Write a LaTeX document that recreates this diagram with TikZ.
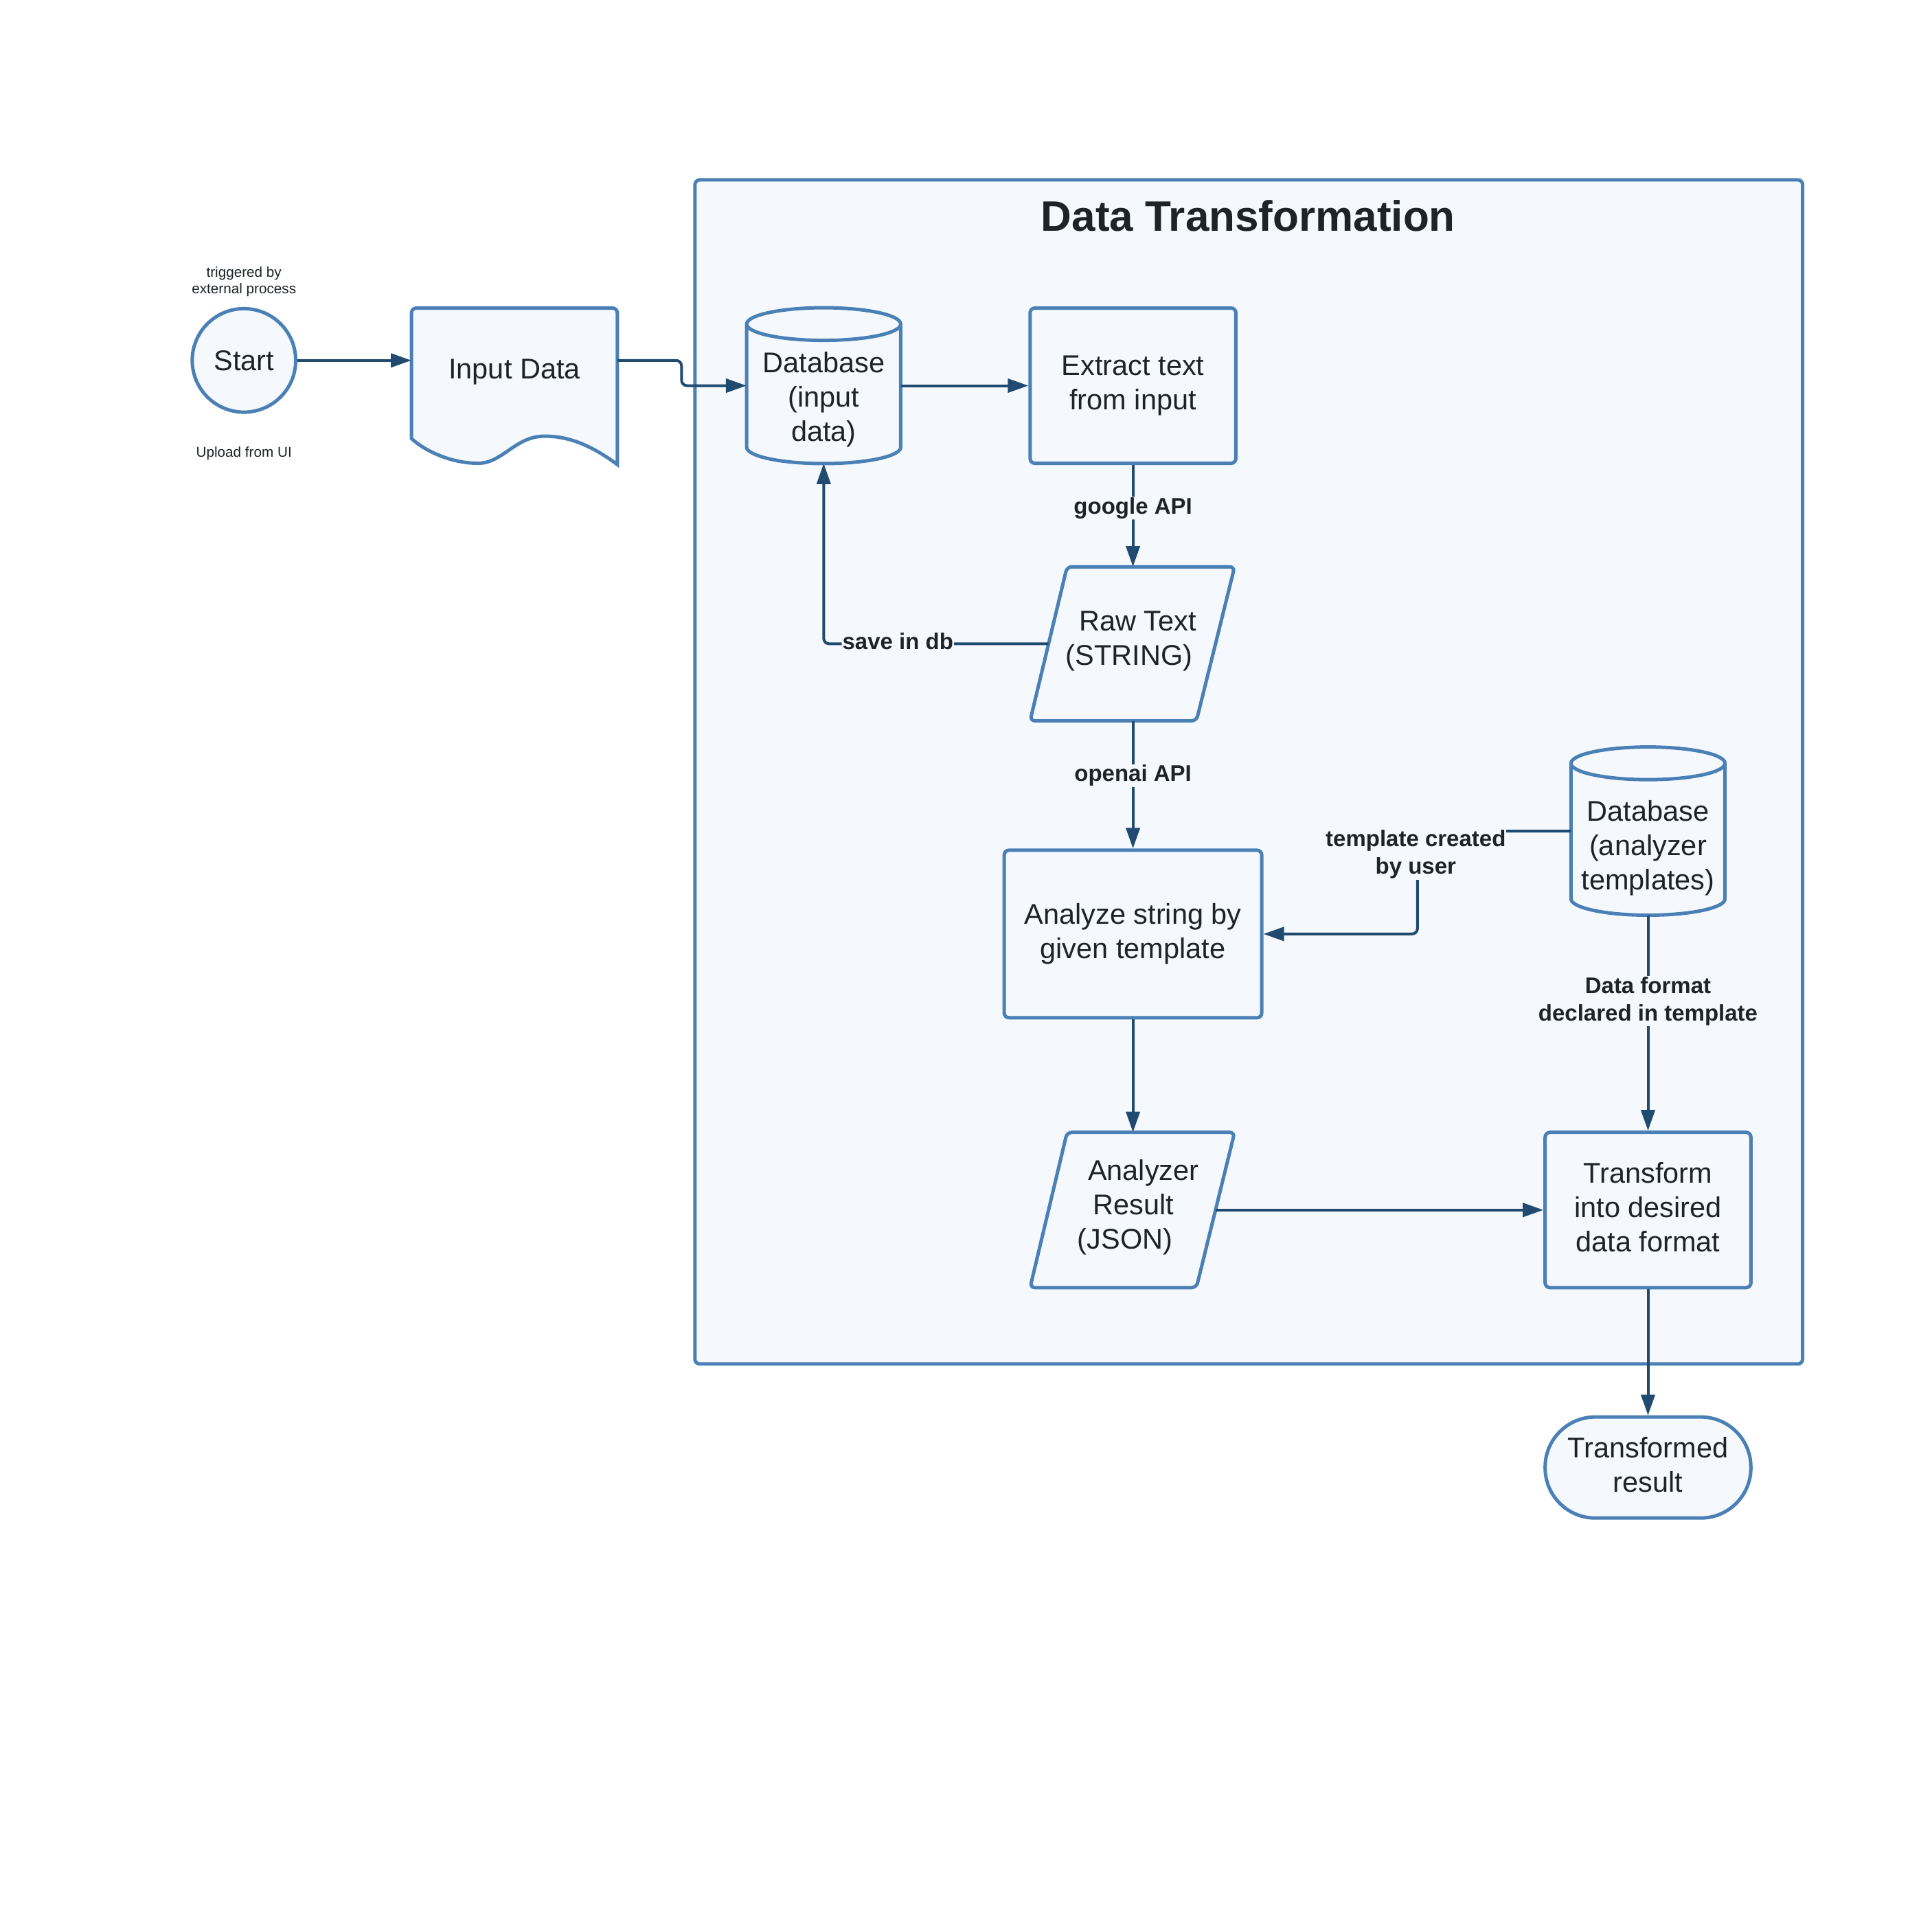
\documentclass[tikz,border=0pt]{standalone}
\usepackage{fontspec}
\setmainfont{Liberation Sans}
\usetikzlibrary{arrows.meta,calc}
\definecolor{edgeblue}{RGB}{74,128,181}
\definecolor{paleblue}{RGB}{245,249,253}
\definecolor{linknavy}{RGB}{33,74,113}
\definecolor{inkdark}{RGB}{30,35,40}
\newcommand{\unitpx}{1.794pt}

\begin{document}
\begin{tikzpicture}[x=1.794pt, y=-1.794pt,
  outline/.style={draw=edgeblue, fill=paleblue, line width=5pt, rounded corners=7pt},
  textbox/.style={draw=none, inner sep=0pt, text=inkdark, align=center,
    font=\fontsize{41.5}{50}\selectfont},
  procbox/.style={textbox, outline},
  conn/.style={draw=linknavy, line width=4pt, -{Triangle[length=30pt,width=20pt]}, rounded corners=8pt},
  lbl/.style={font=\bfseries\fontsize{33}{40}\selectfont, text=inkdark, fill=paleblue,
    inner sep=1pt, align=center},
  note/.style={font=\fontsize{20.7}{23.5}\selectfont, text=inkdark, align=center},
  dbrim/.style={x radius=62.5, y radius=13.25},
  down/.style={yshift=-#1*\unitpx},
]
\fill[white] (0,0) rectangle (1568,1568);
\useasboundingbox (0,0) rectangle (1568,1568);

% group frame and title
\node[outline, inner sep=0pt, minimum width=899*\unitpx, minimum height=961*\unitpx] (frame) at (1013.5,626.5) {};
\node[font=\bfseries\fontsize{62}{74}\selectfont, text=inkdark] (title) at (1013,175) {Data Transformation};

% start event
\node[procbox, circle, minimum size=84*\unitpx] (start) at (198,292.5) {Start};
\node[note] (trigger) at (198,228.5) {triggered by\\external process};
\node[note] (upload) at (198,368) {Upload from UI};

% input document
\path[outline, sharp corners] (334,356) [rounded corners=7pt] -- (334,250) -- (501,250) [sharp corners] -- (501,377)
  .. controls (478,360) and (460,354) .. (442,354)
  .. controls (418,354) and (408,376) .. (388,376)
  .. controls (366,376) and (345,366) .. (334,356) -- cycle;
\node[textbox, minimum width=167*\unitpx, minimum height=98*\unitpx] (input) at (417.5,299) {};
\node[textbox] (inputtext) at (417.5,302) {Input Data};

% input database
\path[outline, sharp corners] (606,263) -- (606,363) arc[start angle=180, end angle=0, dbrim]
  -- (731,263) arc[start angle=0, end angle=-180, dbrim] -- cycle;
\draw[draw=edgeblue, line width=5pt] (606,263) arc[start angle=180, end angle=0, dbrim];
\node[textbox, minimum width=125*\unitpx, minimum height=126*\unitpx] (db1) at (668.5,313) {};
\node[textbox] (db1text) at (668.5,324.5) {Database\\(input\\data)};

% text extraction
\node[procbox, minimum width=167*\unitpx, minimum height=126*\unitpx] (extract) at (919.5,313) {Extract text\\from input};

% raw text data
\path[outline] (866,460) -- (1002,460) -- (971,585) -- (836,585) -- cycle;
\node[textbox, minimum width=166*\unitpx, minimum height=125*\unitpx] (raw) at (919,522.5) {};
\node[textbox] (rawtext) at (919.5,520.5) {\hspace*{14.4pt}Raw Text\\(STRING)\hspace*{10.8pt}};

% analysis step
\node[procbox, minimum width=209*\unitpx, minimum height=136*\unitpx] (analyze) at (919.5,758) {Analyze string by\\given template};

% template database
\path[outline, sharp corners] (1275,619.5) -- (1275,729.5) arc[start angle=180, end angle=0, dbrim]
  -- (1400,619.5) arc[start angle=0, end angle=-180, dbrim] -- cycle;
\draw[draw=edgeblue, line width=5pt] (1275,619.5) arc[start angle=180, end angle=0, dbrim];
\node[textbox, minimum width=125*\unitpx, minimum height=137*\unitpx] (db2) at (1337.5,674.5) {};
\node[textbox] (db2text) at (1337.5,688.5) {Database\\(analyzer\\templates)};

% analyzer result data
\path[outline] (866,919) -- (1002,919) -- (971,1045) -- (836,1045) -- cycle;
\node[textbox, minimum width=166*\unitpx, minimum height=126*\unitpx] (ares) at (919,982) {};
\node[textbox] (arestext) at (920,980) {\hspace*{28.7pt}Analyzer\\Result\\(JSON)\hspace*{25.1pt}};

% transformation and end
\node[procbox, minimum width=167*\unitpx, minimum height=126*\unitpx] (transform) at (1337.5,982) {};
\node[textbox] (transformtext) at (1337.5,980) {Transform\\into desired\\data format};
\node[procbox, rounded corners=73pt, minimum width=167*\unitpx, minimum height=82*\unitpx] (result) at (1337.5,1191) {};
\node[textbox] (resulttext) at (1337.5,1189) {Transformed\\result};

% connectors
\draw[conn] (start.east) -- (start.east -| input.west);
\draw[conn] (input.east |- start.east) -- ++(52,0) |- (db1.west);
\draw[conn] (db1.east) -- (extract.west);
\draw[conn] (extract.south) -- node[lbl, pos=0.4, down=2] {google API} (extract.south |- raw.north);
\draw[conn] ($(raw.west)+(15,0)$) -- node[lbl, pos=0.67, down=-2] {save in db} (db1.south |- raw.west) -- (db1.south);
\draw[conn] (analyze.north |- raw.south) -- node[lbl, pos=0.41, down=2] {openai API} (analyze.north);
\draw[conn] (db2.west) -| ($(analyze.east)+(125,0)$) -- (analyze.east);
\node[lbl] (tpllabel) at (1149,693.5) {template created\\by user};
\draw[conn] (db2.south) -- node[lbl, pos=0.38, down=3] {Data format\\declared in template} (transform.north);
\draw[conn] (analyze.south) -- (analyze.south |- ares.north);
\draw[conn] ($(ares.east)+(-15.5,0)$) -- (transform.west);
\draw[conn] (transform.south) -- (result.north);
\end{tikzpicture}
\end{document}
